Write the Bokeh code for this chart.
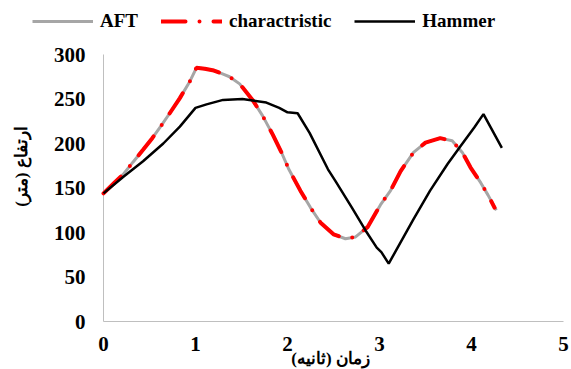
import math
from bokeh.plotting import figure
from bokeh.models import Legend, LegendItem, Range1d, Label
from bokeh.core.properties import value
from bokeh.embed import file_html
from bokeh.resources import INLINE

# ---- data ----
aft_x = [0.00, 0.11, 0.22, 0.32, 0.43, 0.53, 0.62, 0.72, 0.83, 0.94, 1.01, 1.10, 1.20, 1.30,
         1.37, 1.48, 1.62, 1.73, 1.84, 1.93, 2.01, 2.14, 2.25, 2.36, 2.50, 2.63, 2.74, 2.87,
         3.01, 3.12, 3.23, 3.37, 3.50, 3.66, 3.79, 3.90, 3.99, 4.10, 4.18, 4.27]
aft_y = [144, 155, 166, 179, 193, 206, 219, 234, 251, 270, 285, 284, 282, 278,
         275, 267, 249, 231, 210, 191, 172, 147, 128, 111, 98, 93, 95, 106,
         131, 147, 169, 190, 201, 206, 203, 190, 173, 156, 142, 125]

char_x = [0.00, 0.11, 0.22, 0.32, 0.43, 0.53, 0.62, 0.72, 0.83, 0.94, 1.01, 1.10, 1.20, 1.30,
          1.37, 1.48, 1.62, 1.73, 1.84, 1.93, 2.01, 2.14, 2.25, 2.36, 2.50, 2.63, 2.74, 2.87,
          3.01, 3.12, 3.23, 3.37, 3.50, 3.66, 3.79, 3.90, 3.99, 4.10, 4.18, 4.25]
char_y = [144, 155, 166, 179, 193, 206, 219, 234, 251, 270, 285, 284, 282, 278,
          275, 267, 249, 231, 210, 191, 172, 147, 128, 111, 98, 93, 95, 106,
          131, 147, 169, 190, 201, 206, 203, 190, 173, 156, 142, 128]

ham_x = [0.00, 0.22, 0.43, 0.65, 0.83, 1.00, 1.12, 1.30, 1.51, 1.77, 1.91, 2.00, 2.11,
         2.24, 2.44, 2.52, 2.70, 2.85, 2.97, 3.02, 3.10, 3.37, 3.55, 3.74, 3.88, 4.03,
         4.13, 4.33]
ham_y = [144, 163, 180, 200, 219, 240, 244, 249, 250, 246, 240, 235, 234,
         212, 171, 158, 128, 102, 83, 78, 65, 115, 147, 177, 197, 218,
         233, 195]

x_ticks = [0, 1, 2, 3, 4, 5]
y_ticks = [0, 50, 100, 150, 200, 250, 300]
series_names = ["AFT", "charactristic", "Hammer"]
x_title = "زمان (ثانیه)"
y_title = "ارتفاع (متر)"

FONT = "Liberation Serif"
RLM = "\u200F"

W, H = 571, 369
# pixel layout of the plotting area inside the canvas
PL, PR, PT, PB = 103, 563, 54, 321
xs = (PR - PL) / (x_ticks[-1] - x_ticks[0])
ys = (PB - PT) / (y_ticks[-1] - y_ticks[0])
x_range = Range1d(x_ticks[0] - PL / xs, x_ticks[-1] + (W - PR) / xs)
y_range = Range1d(y_ticks[0] - (H - PB) / ys, y_ticks[-1] + PT / ys)

p = figure(width=W, height=H, output_backend="svg", toolbar_location=None,
           x_range=x_range, y_range=y_range, x_axis_type=None, y_axis_type=None,
           min_border=0, min_border_left=0, min_border_right=0,
           min_border_top=0, min_border_bottom=0)
p.outline_line_color = None

# axis lines
p.segment(x0=[x_ticks[0], x_ticks[0]], y0=[y_ticks[0], y_ticks[0]],
          x1=[x_ticks[-1], x_ticks[0]], y1=[y_ticks[0], y_ticks[-1]],
          line_color="#bfbfbf", line_width=1)

# tick labels
p.text(x=[x_ticks[0]] * len(y_ticks), y=y_ticks, text=[str(v) for v in y_ticks],
       x_offset=-18, text_align="right", text_baseline="middle",
       text_font=value(FONT), text_font_style="bold", text_font_size=value("21px"),
       text_color="black")
p.text(x=x_ticks, y=[y_ticks[0]] * len(x_ticks), text=[str(v) for v in x_ticks],
       y_offset=15, text_align="center", text_baseline="top",
       text_font=value(FONT), text_font_style="bold", text_font_size=value("21px"),
       text_color="black")

r_aft = p.line(aft_x, aft_y, line_color="#a6a6a6", line_width=3)
r_char = p.line(char_x, char_y, line_color="#ff0000", line_width=4,
                line_dash="24 14 0 14", line_cap="round")
r_ham = p.line(ham_x, ham_y, line_color="black", line_width=2.5)

legend = Legend(items=[LegendItem(label=series_names[0], renderers=[r_aft]),
                       LegendItem(label=series_names[1], renderers=[r_char]),
                       LegendItem(label=series_names[2], renderers=[r_ham])],
                orientation="horizontal", location=(32, 337),
                glyph_width=61, glyph_height=20, label_height=20, label_standoff=7,
                spacing=23, padding=0, margin=0,
                border_line_color=None, background_fill_alpha=0,
                label_text_font=FONT, label_text_font_style="bold",
                label_text_font_size="19px", label_text_color="black")
p.add_layout(legend, "center")

# axis titles
p.add_layout(Label(x=x_ticks[0] + (330 - PL) / xs, y=y_ticks[0] - (358 - PB) / ys,
                   text=x_title + RLM, text_font=FONT, text_font_style="bold",
                   text_font_size="17px", text_align="center", text_baseline="middle",
                   text_color="black"))
p.add_layout(Label(x=x_ticks[0] - (PL - 21) / xs, y=y_ticks[0] + (PB - 166) / ys,
                   text=y_title + RLM, angle=math.pi / 2, text_font=FONT,
                   text_font_style="bold", text_font_size="17px", text_align="center",
                   text_baseline="middle", text_color="black"))

open("out.html", "w").write(file_html(p, INLINE))
